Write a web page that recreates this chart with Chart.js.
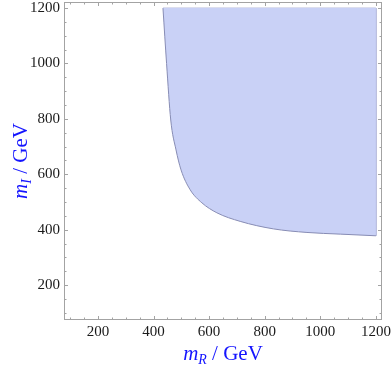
<!DOCTYPE html>
<html>
<head>
<meta charset="utf-8">
<script src="https://cdn.jsdelivr.net/npm/chart.js@4"></script>
<style>
  html, body { margin: 0; padding: 0; background: #fff; }
  #wrap { width: 392px; height: 368px; }
</style>
</head>
<body>
<div id="wrap"><canvas id="graph"></canvas></div>
<script>
// boundary of the allowed region
var mR = [434, 447, 462, 481, 499, 532, 574, 628, 712, 831, 952, 1072, 1200]
var mI = [1200, 1000, 796, 688, 616, 544, 497, 461, 430, 403, 390, 384, 378]

var xTicks = [200, 400, 600, 800, 1000, 1200]
var yTicks = [200, 400, 600, 800, 1000, 1200]

var serif = '"Liberation Serif", "DejaVu Serif", serif'

// frame with inward ticks on all four sides, like Mathematica
var frame = {
  id: 'frame',
  afterDatasetsDraw: function (chart) {
    var c = chart.ctx, a = chart.chartArea
    var sx = chart.scales.x, sy = chart.scales.y
    c.save()
    c.strokeStyle = '#a3a3a3'
    c.lineWidth = 1
    c.strokeRect(Math.round(a.left) + 0.5, Math.round(a.top) + 0.5,
      Math.round(a.right - a.left) - 1, Math.round(a.bottom - a.top) - 1)
    c.beginPath()
    for (var v = 100; v <= 1200; v += 50) {
      var len = v % 200 === 0 ? 4 : 2.5
      if (v >= sx.min && v <= sx.max) {
        var px = Math.round(sx.getPixelForValue(v)) + 0.5
        c.moveTo(px, a.bottom); c.lineTo(px, a.bottom - len)
        c.moveTo(px, a.top); c.lineTo(px, a.top + len)
      }
      if (v >= sy.min && v <= sy.max) {
        var py = Math.round(sy.getPixelForValue(v)) + 0.5
        c.moveTo(a.left, py); c.lineTo(a.left + len, py)
        c.moveTo(a.right, py); c.lineTo(a.right - len, py)
      }
    }
    c.stroke()
    c.restore()
  },
  afterDraw: function (chart) {
    var a = chart.chartArea
    drawTitle(chart.ctx, (a.left + a.right) / 2, 360, 'R', false)
    drawTitle(chart.ctx, 27, (a.top + a.bottom) / 2, 'I', true)
  }
}

function drawTitle(c, x, y, sub, rotate) {
  var f1 = 'italic 21px ' + serif, f2 = 'italic 14px ' + serif, f3 = '21px ' + serif
  c.save()
  c.font = f1; var w1 = c.measureText('m').width
  c.font = f2; var w2 = c.measureText(sub).width
  c.font = f3; var w3 = c.measureText(' / GeV').width
  var total = w1 + w2 + w3
  c.translate(x, y)
  if (rotate) c.rotate(-Math.PI / 2)
  c.fillStyle = '#1414ff'
  c.textBaseline = 'alphabetic'
  c.textAlign = 'left'
  var s = -total / 2
  c.font = f1; c.fillText('m', s, 0)
  c.font = f2; c.fillText(sub, s + w1, 4)
  c.font = f3; c.fillText(' / GeV', s + w1 + w2, 0)
  c.restore()
}

function plain(v) { return String(v) }

var points = mR.map(function (v, i) { return { x: v, y: mI[i] } })

var ctx = document.getElementById('graph').getContext('2d')

var myChart = new Chart(ctx, {
  type: 'line',
  data: {
    datasets: [{
      data: points,
      fill: { value: 1200 },
      backgroundColor: 'rgb(201, 209, 246)',
      borderColor: 'rgb(135, 140, 180)',
      borderWidth: 1,
      pointRadius: 0,
      cubicInterpolationMode: 'monotone'
    }, {
      // top and right edges of the region
      data: [
        { x: mR[0], y: mI[0] },
        { x: mR[mR.length - 1], y: mI[0] },
        { x: mR[mR.length - 1], y: mI[mI.length - 1] }
      ],
      fill: false,
      borderColor: 'rgb(168, 174, 212)',
      borderWidth: 1,
      pointRadius: 0,
      tension: 0
    }]
  },
  options: {
    responsive: true,
    maintainAspectRatio: false,
    animation: false,
    events: [],
    layout: {
      padding: { left: 26, right: 10, top: 2, bottom: 0 }
    },
    plugins: {
      legend: { display: false },
      tooltip: { enabled: false }
    },
    scales: {
      x: {
        type: 'linear',
        min: 78,
        max: 1222,
        grid: { display: false, drawTicks: false },
        border: { display: false },
        afterBuildTicks: function (s) { s.ticks = xTicks.map(function (v) { return { value: v } }) },
        afterFit: function (s) { s.height = 48; s.paddingLeft = 0; s.paddingRight = 0 },
        ticks: {
          padding: 5,
          maxRotation: 0,
          color: '#1a1a1a',
          callback: plain,
          font: { family: serif, size: 15, lineHeight: 1 }
        }
      },
      y: {
        type: 'linear',
        min: 74,
        max: 1222,
        grid: { display: false, drawTicks: false },
        border: { display: false },
        afterBuildTicks: function (s) { s.ticks = yTicks.map(function (v) { return { value: v } }) },
        afterFit: function (s) { s.width = 38; s.paddingTop = 0; s.paddingBottom = 0 },
        ticks: {
          padding: 4,
          color: '#1a1a1a',
          callback: plain,
          font: { family: serif, size: 15, lineHeight: 1 }
        }
      }
    }
  },
  plugins: [frame]
})
</script>
</body>
</html>
